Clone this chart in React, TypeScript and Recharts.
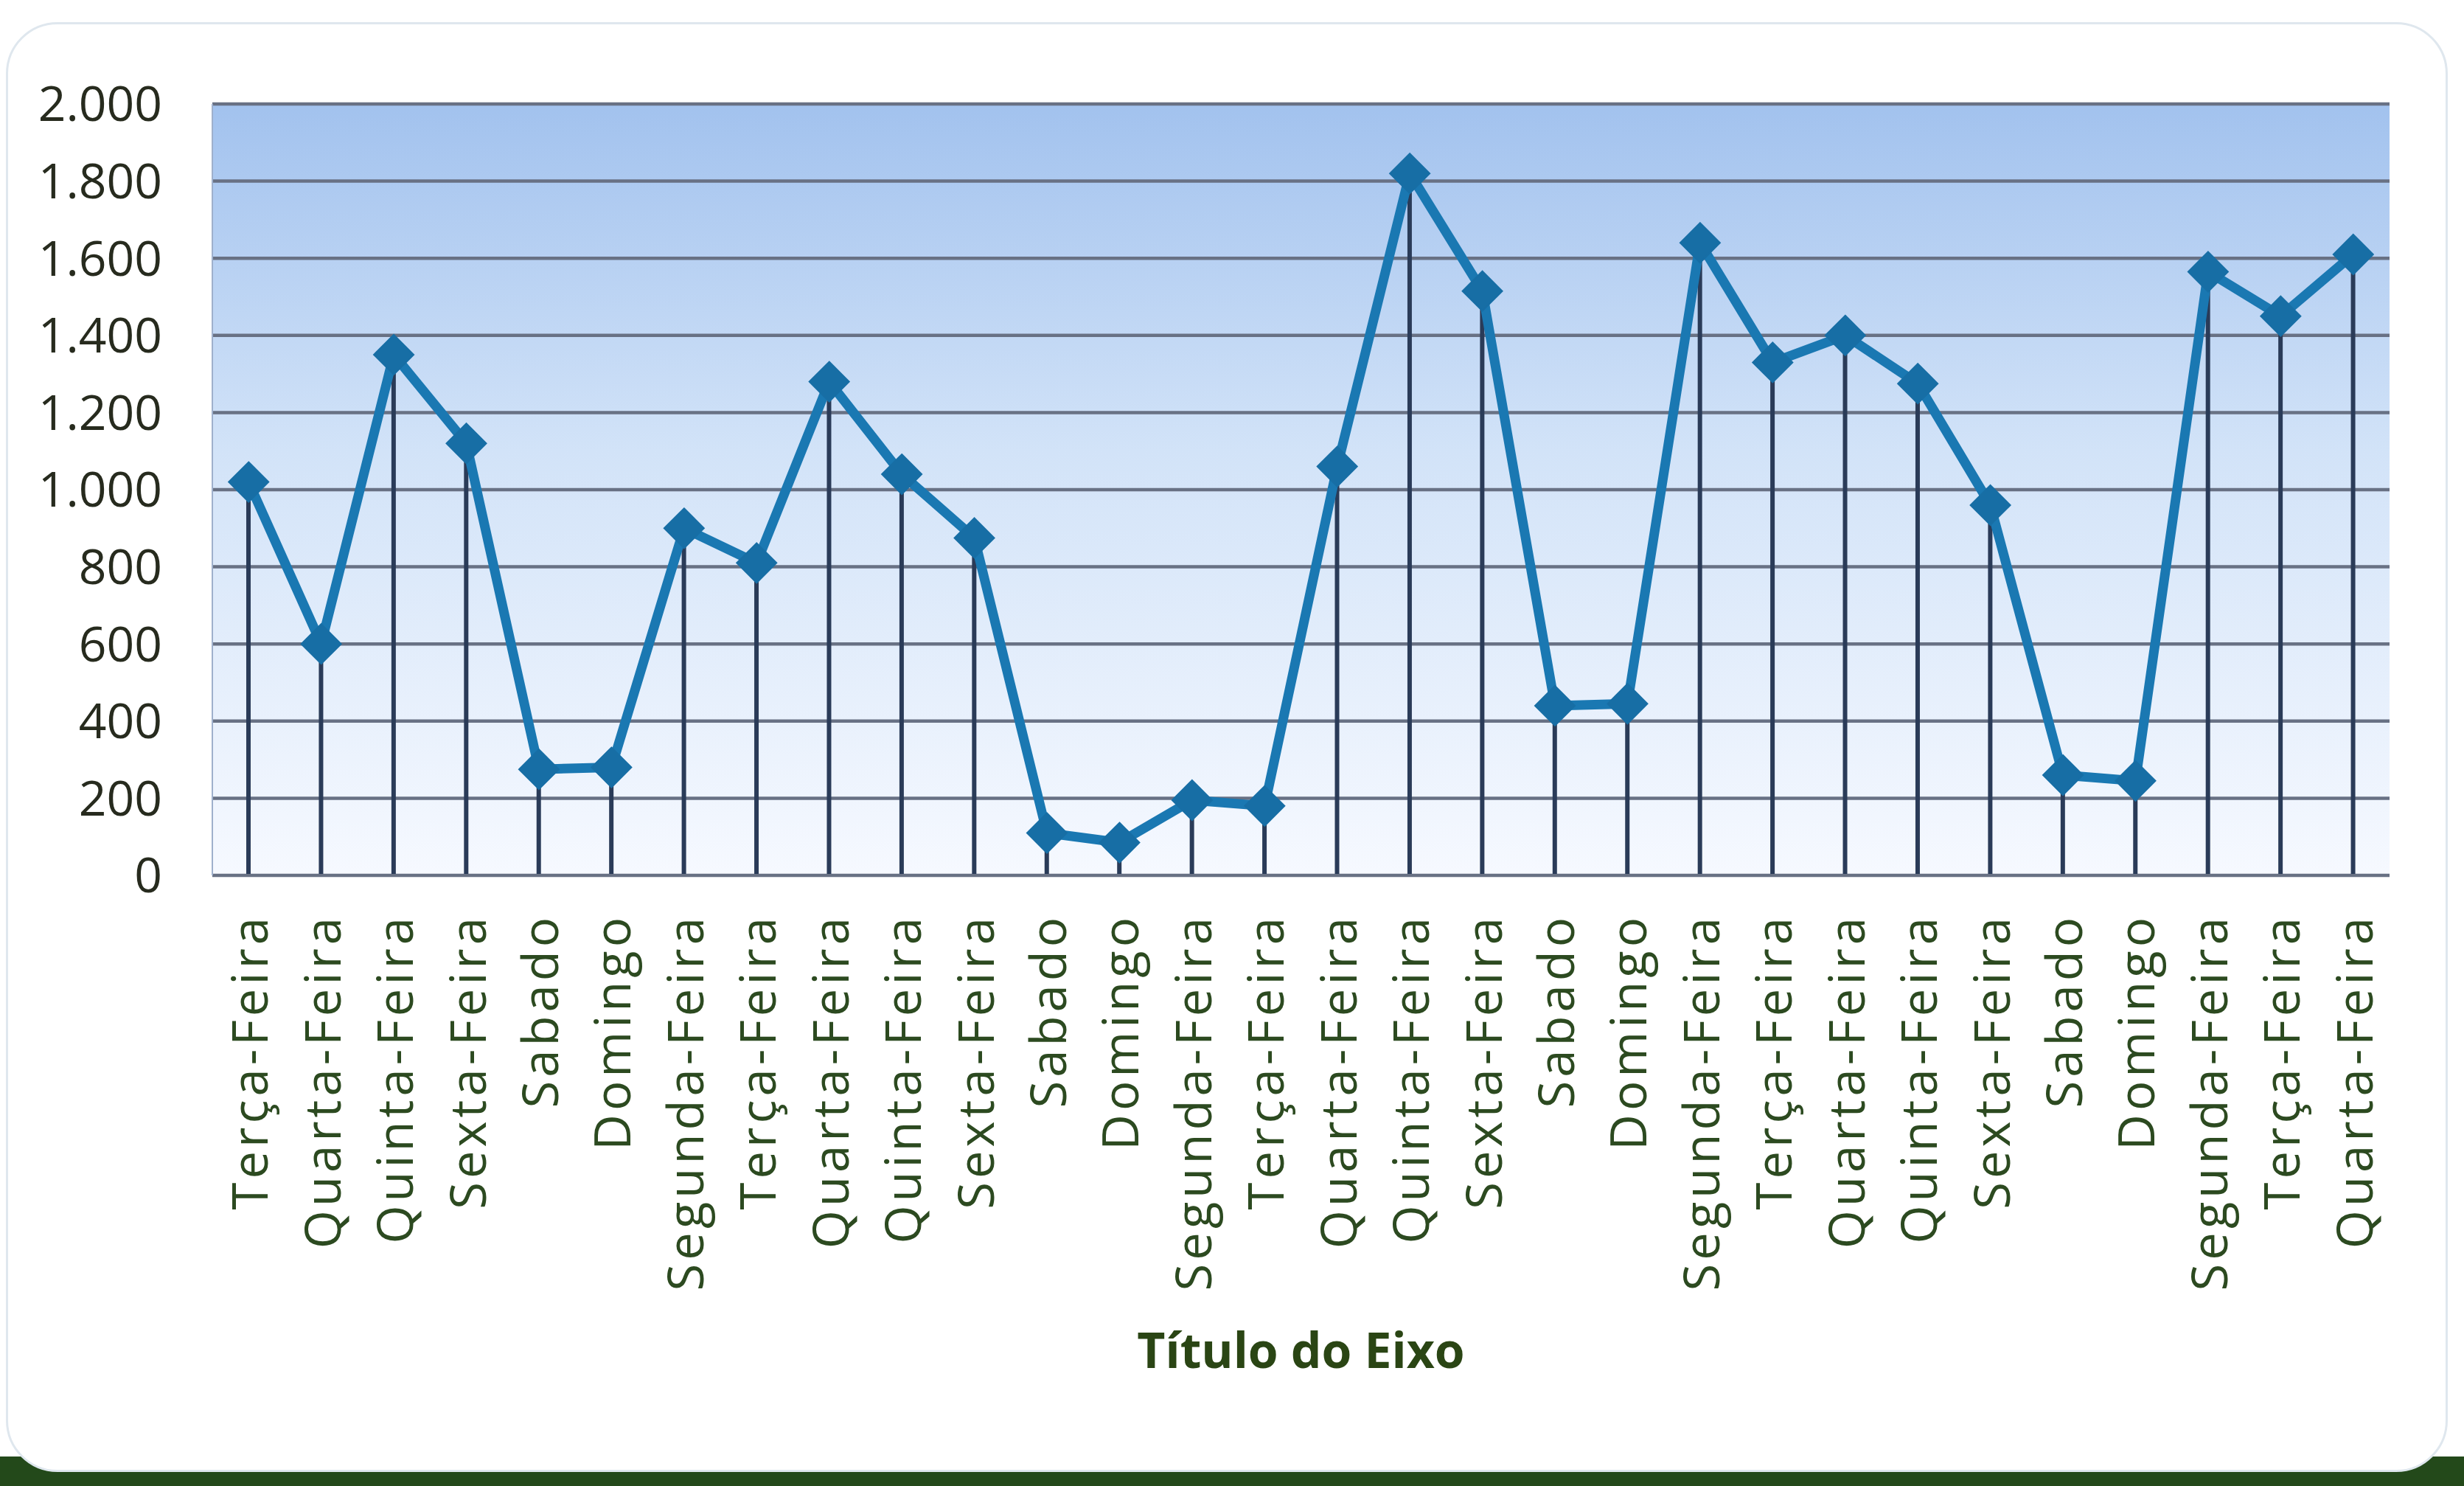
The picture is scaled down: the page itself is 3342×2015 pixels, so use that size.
import { ComposedChart, Line, Bar, XAxis, YAxis, CartesianGrid, Label } from 'recharts';

const days = [
  'Terça-Feira', 'Quarta-Feira', 'Quinta-Feira', 'Sexta-Feira', 'Sabado', 'Domingo',
  'Segunda-Feira', 'Terça-Feira', 'Quarta-Feira', 'Quinta-Feira', 'Sexta-Feira', 'Sabado', 'Domingo',
  'Segunda-Feira', 'Terça-Feira', 'Quarta-Feira', 'Quinta-Feira', 'Sexta-Feira', 'Sabado', 'Domingo',
  'Segunda-Feira', 'Terça-Feira', 'Quarta-Feira', 'Quinta-Feira', 'Sexta-Feira', 'Sabado', 'Domingo',
  'Segunda-Feira', 'Terça-Feira', 'Quarta-Feira',
];

const values = [
  1020, 600, 1350, 1120, 275, 280,
  900, 810, 1280, 1040, 875, 110, 85,
  195, 180, 1060, 1820, 1515, 440, 445,
  1640, 1330, 1400, 1275, 960, 260, 245,
  1565, 1450, 1610,
];

const yTicks = [0, 200, 400, 600, 800, 1000, 1200, 1400, 1600, 1800, 2000];

const data = days.map((day, i) => ({ key: `${day}-${i}`, day, value: values[i] }));

const FONT = '"Open Sans", "DejaVu Sans", sans-serif';

// Excel style: 1.000, 2.000
const fmt = (v: number) => String(v).replace(/\B(?=(\d{3})+(?!\d))/g, '.');

const Diamond = (props: any) => {
  const { cx, cy, index } = props;
  if (cx == null || cy == null) return null;
  const r = 27;
  return (
    <path
      key={`d-${index}`}
      d={`M${cx},${cy - r} L${cx + r},${cy} L${cx},${cy + r} L${cx - r},${cy} Z`}
      fill="#176ea5"
      stroke="#176ea5"
      strokeWidth={2}
    />
  );
};

const DayTick = (props: any) => {
  const { x, y, payload } = props;
  return (
    <text
      x={x}
      y={y}
      transform={`rotate(-90 ${x} ${y})`}
      textAnchor="end"
      dominantBaseline="central"
      fontFamily={FONT}
      fontSize={67}
      letterSpacing={5}
      fill="#2c4a20"
    >
      {days[payload.index] ?? payload.value}
    </text>
  );
};

export default function App() {
  return (
    <div style={{ position: 'absolute', left: 0, top: 0, width: 3342, height: 2015, background: '#ffffff', overflow: 'hidden' }}>
      <div style={{ position: 'absolute', left: 0, top: 1975, width: 3342, height: 40, background: '#23491a' }} />
      <div
        style={{
          position: 'absolute', left: 8, top: 30, width: 3312, height: 1966,
          background: '#ffffff', borderRadius: 70, border: '3px solid #dfe7ee', boxSizing: 'border-box',
        }}
      />
      <div style={{ position: 'absolute', left: 0, top: 0 }}>
        <ComposedChart
          width={3342}
          height={2015}
          data={data}
          margin={{ top: 141, right: 101, left: 0, bottom: 0 }}
        >
          <defs>
            <linearGradient id="plotBg" x1="0" y1="0" x2="0" y2="1">
              <stop offset="0%" stopColor="#a2c2ee" />
              <stop offset="45%" stopColor="#d2e3f8" />
              <stop offset="100%" stopColor="#f6f9ff" />
            </linearGradient>
          </defs>
          <CartesianGrid
            fill="url(#plotBg)"
            vertical={false}
            stroke="#687184"
            strokeWidth={4.5}
          />
          <XAxis
            dataKey="key"
            type="category"
            interval={0}
            height={828}
            tick={<DayTick />}
            tickLine={false}
            tickSize={0}
            tickMargin={52}
            axisLine={{ stroke: '#687184', strokeWidth: 4 }}
          >
            <Label
              value="Título do Eixo"
              position="insideBottom"
              offset={160}
              style={{ fontFamily: FONT, fontSize: 66, fontWeight: 700, fill: '#2a4514' }}
            />
          </XAxis>
          <YAxis
            type="number"
            domain={[0, 2000]}
            ticks={yTicks}
            interval={0}
            width={288}
            tickFormatter={fmt}
            tickLine={false}
            tickSize={0}
            tickMargin={68}
            axisLine={{ stroke: '#9fb0cc', strokeWidth: 2 }}
            tick={{ fontFamily: FONT, fontSize: 66, fill: '#272b1e' }}
          />
          <Bar dataKey="value" barSize={6} fill="#2a3b58" isAnimationActive={false} />
          <Line
            type="linear"
            dataKey="value"
            stroke="#1a78b2"
            strokeWidth={13}
            strokeLinejoin="round"
            dot={<Diamond />}
            activeDot={false}
            isAnimationActive={false}
          />
        </ComposedChart>
      </div>
    </div>
  );
}
